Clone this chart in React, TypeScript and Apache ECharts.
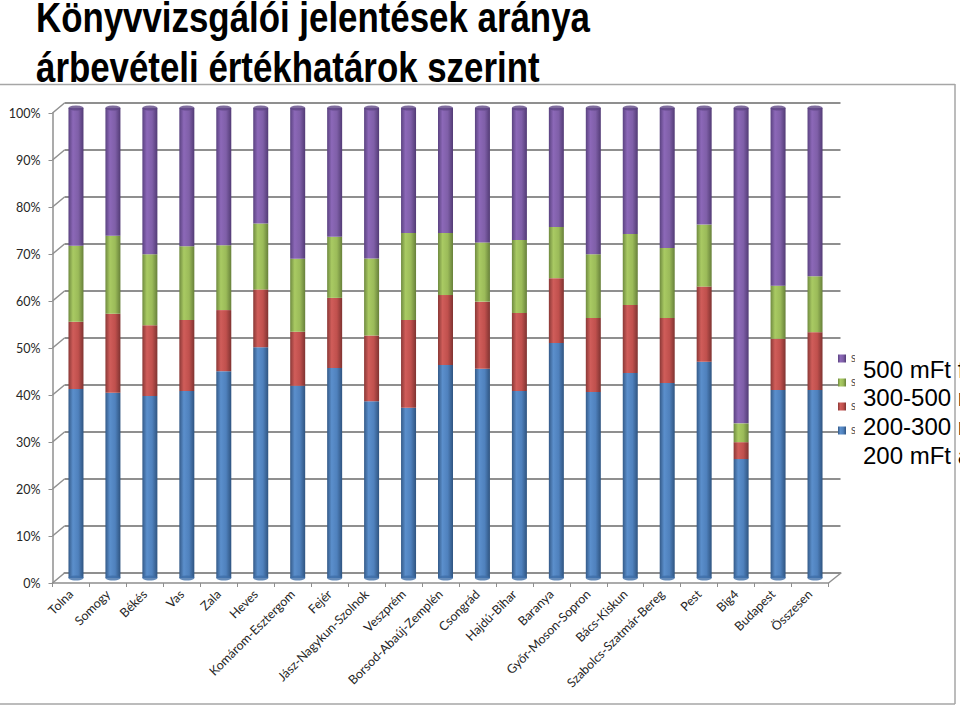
import React, { useEffect, useRef } from "react";
import * as echarts from "echarts";

const categories = ["Tolna","Somogy","Békés","Vas","Zala","Heves","Komárom-Esztergom","Fejér","Jász-Nagykun-Szolnok","Veszprém","Borsod-Abaúj-Zemplén","Csongrád","Hajdú-Bihar","Baranya","Győr-Moson-Sopron","Bács-Kiskun","Szabolcs-Szatmár-Bereg","Pest","Big4","Budapest","Összesen"];
const below200 = [40.2,39.4,38.7,39.8,44.0,49.1,40.9,44.7,37.6,36.2,45.3,44.5,39.8,50.0,39.6,43.6,41.5,46.0,25.3,40.0,40.0];
const from200to300 = [14.3,16.8,15.1,15.1,13.0,12.3,11.5,14.9,14.0,18.7,14.9,14.3,16.6,13.8,15.7,14.5,13.8,16.0,3.6,10.9,12.3];
const from300to500 = [16.2,16.6,15.1,15.7,13.8,14.0,15.5,13.0,16.4,18.5,13.2,12.6,15.5,10.9,13.6,15.1,14.9,13.2,4.0,11.3,11.9];
const above500 = [29.3,27.2,31.1,29.4,29.2,24.6,32.1,27.4,32.0,26.6,26.6,28.6,28.1,25.3,31.1,26.8,29.8,24.8,67.1,37.8,35.8];
const seriesNames = ["200 mFt alatt","200-300 mFt","300-500 mFt","500 mFt felett"];
const legendLines = ["500 mFt felett","300-500 mFt","200-300 mFt","200 mFt alatt"];
const titleLines = ["Könyvvizsgálói jelentések aránya","árbevételi értékhatárok szerint"];
const percentTicks = [0,10,20,30,40,50,60,70,80,90,100];
const seriesValues = [below200, from200to300, from300to500, above500];
const fills = [
  ["#345a88","#5b8fcc","#4f81bd","#2f5480"],
  ["#8a3836","#d05d5a","#c0504d","#7f3331"],
  ["#6f8a3f","#a9ca63","#9bbb59","#67803a"],
  ["#5a4280","#8c68b8","#7f5fa8","#523b75"],
];
const GRID = "#8f8f8f";

function cylinder(c: string[]) {
  return {
    type: "linear", x: 0, y: 0, x2: 1, y2: 0,
    colorStops: [
      { offset: 0, color: c[0] },
      { offset: 0.3, color: c[1] },
      { offset: 0.65, color: c[2] },
      { offset: 1, color: c[3] },
    ],
  };
}

export default function App() {
  const ref = useRef<HTMLDivElement>(null);
  useEffect(() => {
    const chart = echarts.init(ref.current!, undefined, { renderer: "svg" });
    const hiddenAxis = { show: false };
    const labelFont = { fontFamily: "Lato", fontSize: 12.5, color: "#262626" };
    const wallLines = percentTicks.map((p) => ({
      type: "line", z: 1,
      shape: { x1: 52.5, y1: 583 - p * 4.7, x2: 64.5, y2: 573 - p * 4.7 },
      style: { stroke: GRID, lineWidth: 1.5 },
    }));
    chart.setOption({
      animation: false,
      backgroundColor: "#ffffff",
      grid: [
        { left: 52.5, top: 113, width: 776, height: 470 },
        { left: 64.5, top: 103, width: 776, height: 470 },
        { left: 57.5, top: 108, width: 776, height: 470 },
      ],
      xAxis: [
        {
          type: "category", gridIndex: 0, data: categories,
          axisLine: { lineStyle: { color: GRID, width: 1.5 } },
          axisTick: { show: true, length: 4, lineStyle: { color: GRID } },
          axisLabel: { ...labelFont, rotate: 45, margin: 9, interval: 0 },
        },
        {
          type: "category", gridIndex: 1, data: categories,
          axisLine: { lineStyle: { color: GRID, width: 2 } },
          axisTick: { show: false }, axisLabel: { show: false },
        },
        { type: "category", gridIndex: 2, data: categories, ...hiddenAxis },
      ],
      yAxis: [
        {
          type: "value", gridIndex: 0, min: 0, max: 100, interval: 10,
          axisLine: { show: true, lineStyle: { color: GRID, width: 1.5 } },
          axisTick: { show: true, length: 4, lineStyle: { color: GRID } },
          axisLabel: { ...labelFont, formatter: "{value}%", margin: 12 },
          splitLine: { show: false },
        },
        {
          type: "value", gridIndex: 1, min: 0, max: 100, interval: 10,
          axisLine: { show: false }, axisTick: { show: false }, axisLabel: { show: false },
          splitLine: { show: true, lineStyle: { color: GRID, width: 2 } },
        },
        { type: "value", gridIndex: 2, min: 0, max: 100, interval: 10, ...hiddenAxis },
      ],
      legend: {
        orient: "vertical", left: 833, top: 349, itemWidth: 8, itemHeight: 8, itemGap: 15,
        selectedMode: false, icon: "rect",
        data: [seriesNames[3], seriesNames[2], seriesNames[1], seriesNames[0]],
        formatter: () => "S",
        textStyle: { fontFamily: "Lato", fontSize: 9, color: "#444" },
      },
      series: [
        ...seriesValues.map((values, i) => ({
          type: "bar", name: seriesNames[i], stack: "total", xAxisIndex: 2, yAxisIndex: 2,
          barWidth: 15, data: values, z: 3,
          itemStyle: { color: cylinder(fills[i]) },
        })),
        {
          type: "scatter", xAxisIndex: 2, yAxisIndex: 2, symbol: "circle", symbolSize: [15, 5], z: 5,
          data: categories.map((_, i) => [i, 0]), itemStyle: { color: "#3f6ea8" }, silent: true,
        },
        {
          type: "scatter", xAxisIndex: 2, yAxisIndex: 2, symbol: "circle", symbolSize: [15, 5], z: 5,
          data: categories.map((_, i) => [i, 100]), itemStyle: { color: "#5f4785" }, silent: true,
        },
      ],
      graphic: {
        elements: [
          ...wallLines,
          { type: "line", z: 1, shape: { x1: 828.5, y1: 583, x2: 841, y2: 573 }, style: { stroke: GRID, lineWidth: 1.5 } },
          { type: "rect", z: 40, shape: { x: 855, y: 345, width: 105, height: 125 }, style: { fill: "#ffffff" } },
          ...legendLines.map((t, i) => ({
            type: "text", z: 41, x: 863, y: 369 + i * 28.7,
            style: { text: t, fontFamily: "Liberation Sans", fontSize: 24, fill: "#000", verticalAlign: "middle", align: "left" },
          })),
          { type: "line", z: 42, shape: { x1: 0, y1: 84.5, x2: 955, y2: 84.5 }, style: { stroke: "#a6a6a6", lineWidth: 1.5 } },
          { type: "line", z: 42, shape: { x1: 955, y1: 84, x2: 955, y2: 704 }, style: { stroke: "#a6a6a6", lineWidth: 1.5 } },
          { type: "line", z: 42, shape: { x1: 0, y1: 704, x2: 955, y2: 704 }, style: { stroke: "#a6a6a6", lineWidth: 1.5 } },
          ...titleLines.map((t, i) => ({
            type: "text", z: 50, x: 36, y: -4 + i * 50, scaleX: 0.83,
            style: { text: t, fontFamily: "Liberation Sans", fontWeight: "bold", fontSize: 42, fill: "#000", align: "left" },
          })),
        ],
      },
    });
    return () => chart.dispose();
  }, []);
  return <div ref={ref} style={{ position: "fixed", left: 0, top: 0, width: 960, height: 707 }} />;
}
